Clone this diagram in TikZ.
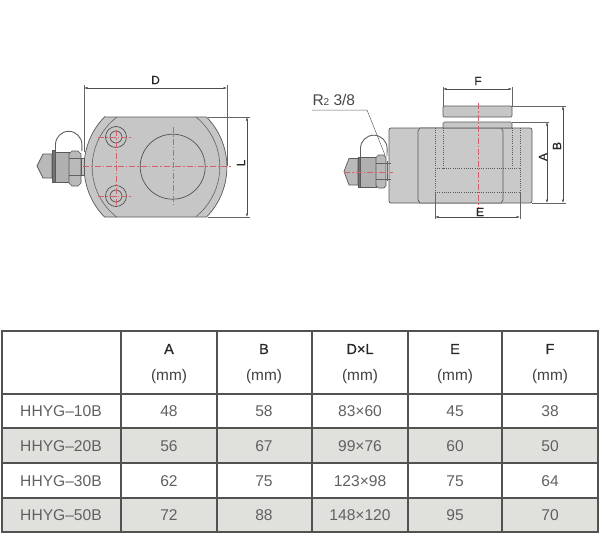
\documentclass[tikz,border=0pt]{standalone}
\usepackage{fontspec}
\setmainfont{Liberation Sans}
\newfontfamily\hdfont[FakeBold=0.5]{Liberation Sans}
\usetikzlibrary{arrows.meta}
\definecolor{axisred}{HTML}{D4606A}
\definecolor{rowgrey}{HTML}{E0E1DD}
\tikzset{
  every node/.style={inner sep=0pt,outer sep=0pt},
  outl/.style={draw=black!65,line width=0.7pt},
  body/.style={outl,fill=gray!45},
  thin/.style={draw=black!62,line width=0.6pt},
  dimline/.style={draw=black!70,line width=0.5pt,{Latex[length=3.5pt,width=2.2pt]}-{Latex[length=3.5pt,width=2.2pt]}},
  extline/.style={draw=black!60,line width=0.5pt},
  hidden/.style={draw=black!65,line width=0.6pt,dash pattern=on 1pt off 1.2pt},
  axis/.style={draw=axisred,line width=0.55pt,dash pattern=on 6pt off 2pt on 1.5pt off 2pt},
  dimlabel/.style={font=\hdfont\fontsize{12}{12}\selectfont,text=black!85},
  cellhead/.style={font=\hdfont\fontsize{14.5}{14.5}\selectfont,text=black!85},
  cellunit/.style={font=\fontsize{15.4}{15.4}\selectfont,text=black!75},
  cell/.style={font=\fontsize{15.6}{15.6}\selectfont,text=black!62},
  tabline/.style={draw=black!68,line width=1.2pt},
  ring/.style={circle,draw=black!68,line width=0.7pt}
}
\begin{document}
\begin{tikzpicture}[x=1pt,y=-1pt]
\useasboundingbox[fill=white] (0,0) rectangle (600,535);
% ---- left view: body
\path[body] (104.5,117) -- (206.5,117) arc[start angle=-44.4,end angle=44.4,radius=71.5] -- (104.5,217) arc[start angle=135.6,end angle=224.4,radius=71.5] -- cycle;
\draw[thin] (117,117) arc[start angle=232.7,end angle=127.3,radius=63];
\draw[thin] (196,117) arc[start angle=-51.1,end angle=51.1,radius=64];
\node[ring,minimum size=65pt] (ram) at (172.7,166.7) {};
\node[ring,minimum size=21pt] (boltA) at (116,137) {};
\node[ring,minimum size=12pt] (boltAi) at (116,137) {};
\node[ring,minimum size=21pt] (boltB) at (116,196) {};
\node[ring,minimum size=12pt] (boltBi) at (116,196) {};
% left view: fitting
\draw[thin,line width=0.9pt] (55.5,152) -- (55.5,144.5) arc[start angle=180,end angle=360,radius=13.2] -- (81.9,151);
\path[outl,fill=gray!55] (37,166) -- (43,154) -- (52,154) -- (52,178) -- (43,178) -- cycle;
\path[outl,fill=black!55] (52.5,150) rectangle (55,182);
\path[outl,fill=gray!62] (55,152) rectangle (69,182);
\path[outl,fill=gray!75!black!0,fill=gray!55] (69,154) -- (72,151) -- (78,151) -- (81,154) -- (81,183) -- (78,186) -- (72,186) -- (69,183) -- cycle;
\draw[thin] (69,158) -- (81,158) (69,175) -- (81,175);
\path[outl,fill=gray!45] (81,158) rectangle (84.5,175);
% left view: axes
\draw[axis] (83,166.5) -- (232,166.5);
\draw[axis] (173,127) -- (173,205);
\draw[axis] (116,130) -- (116,207);
\draw[axis] (98,137) -- (132,137);
\draw[axis] (98,196) -- (132,196);
% left view: dimensions
\draw[extline] (84,85) -- (84,152) (227,85) -- (227,166);
\draw[extline] (208,117) -- (250,117) (208,217) -- (250,217);
\coordinate (dl) at (84,88); \coordinate (dr) at (227,88);
\draw[dimline] (dl) -- (dr);
\coordinate (lt) at (247,117); \coordinate (lb) at (247,217);
\draw[dimline] (lt) -- (lb);
\node[dimlabel] (labD) at (155.5,80) {D};
\node[dimlabel,rotate=90] (labL) at (241,163) {L};
% ---- right view
\path[outl,fill=gray!42,rounded corners=2pt] (389,128) rectangle (532,203);
\path[outl,fill=gray!42] (418,131) -- (420,128) -- (501,128) -- (503,131) -- (503,200) -- (501,203) -- (420,203) -- (418,200) -- cycle;
\path[outl,fill=gray!45] (443,128) -- (443,123.5) -- (444.5,122) -- (510.5,122) -- (512,123.5) -- (512,128) -- cycle;
\path[outl,fill=gray!45,rounded corners=1.2pt] (443,106) rectangle (512,117);
\draw[hidden] (435,128) -- (435,203) (443,128) -- (443,168) (512,128) -- (512,168) (520,128) -- (520,192);
\draw[hidden] (435,168) -- (520,168) (435,192) -- (520,192);
\draw[axis] (478,103) -- (478,207);
% right view: fitting
\draw[thin,line width=0.9pt] (360.5,157) -- (360.5,148.5) arc[start angle=180,end angle=360,radius=13.3] -- (387,156);
\path[outl,fill=gray!55] (344,171.5) -- (349,158.5) -- (358,158.5) -- (358,185) -- (349,185) -- cycle;
\path[outl,fill=black!55] (358,157) rectangle (360.5,187);
\path[outl,fill=gray!62] (360.5,157) rectangle (376,187);
\path[outl,fill=gray!55] (376,157.5) -- (378.5,155) -- (384,155) -- (386,157.5) -- (386,185.5) -- (384,188) -- (378.5,188) -- (376,185.5) -- cycle;
\draw[thin] (376,163) -- (386,163) (376,179) -- (386,179);
\draw[thin] (386,163) -- (391,163) (386,179) -- (391,179) (387.5,161) -- (387.5,181);
\draw[axis] (344,172) -- (393,172);
% right view: dimensions
\draw[extline] (443,87) -- (443,106) (512,87) -- (512,106);
\draw[extline] (435,192) -- (435,219) (520,192) -- (520,219);
\draw[extline] (512,106) -- (566,106) (512,122) -- (549,122) (532,203) -- (566,203);
\coordinate (fl) at (443,89); \coordinate (fr) at (512,89);
\draw[dimline] (fl) -- (fr);
\coordinate (el) at (435,217); \coordinate (er) at (520,217);
\draw[dimline] (el) -- (er);
\coordinate (at) at (547,122); \coordinate (ab) at (547,203);
\draw[dimline] (at) -- (ab);
\coordinate (bt) at (563,106); \coordinate (bb) at (563,203);
\draw[dimline] (bt) -- (bb);
\node[dimlabel] (labF) at (478,81) {F};
\node[dimlabel] (labE) at (480,212) {E};
\node[dimlabel,rotate=90] (labA) at (543,157) {A};
\node[dimlabel,rotate=90] (labB) at (557,146) {B};
\node[font=\fontsize{15.5}{15.5}\selectfont,text=black!72,anchor=base west] (labR) at (312.5,105.5) {R{\fontsize{10}{10}\selectfont 2} 3/8};
\coordinate (ra) at (312,110); \coordinate (rb) at (367,110); \coordinate (rc) at (385,155);
\draw[extline] (ra) -- (rb) -- (rc);
% ---- table
\fill[rowgrey] (2,428) rectangle (598,463) (2,498) rectangle (598,532);
\draw[tabline] (2,331) rectangle (598,532);
\foreach \x in {121,217,312,408,502}{\draw[tabline] (\x,331) -- (\x,532);}
\foreach \y in {394,428,463,498}{\draw[tabline] (2,\y) -- (598,\y);}
\node[cellhead] (hA) at (169,349) {A};
\node[cellhead] (hB) at (264,349) {B};
\node[cellhead] (hC) at (360,349) {D×L};
\node[cellhead] (hE) at (455,349) {E};
\node[cellhead] (hF) at (550,349) {F};
\foreach \x/\n in {169/a,264/b,360/c,455/e,550/f}{\node[cellunit] (u\n) at (\x,377) {(mm)};}
\foreach \y/\n/\m/\A/\B/\C/\E/\F in {411/1/HHYG–10B/48/58/83×60/45/38,446/2/HHYG–20B/56/67/99×76/60/50,481/3/HHYG–30B/62/75/123×98/75/64,515/4/HHYG–50B/72/88/148×120/95/70}{
  \node[cell] (m\n) at (61,\y) {\m};
  \node[cell] (a\n) at (169,\y) {\A};
  \node[cell] (b\n) at (264,\y) {\B};
  \node[cell] (c\n) at (360,\y) {\C};
  \node[cell] (e\n) at (455,\y) {\E};
  \node[cell] (f\n) at (550,\y) {\F};
}
\end{tikzpicture}
\end{document}
